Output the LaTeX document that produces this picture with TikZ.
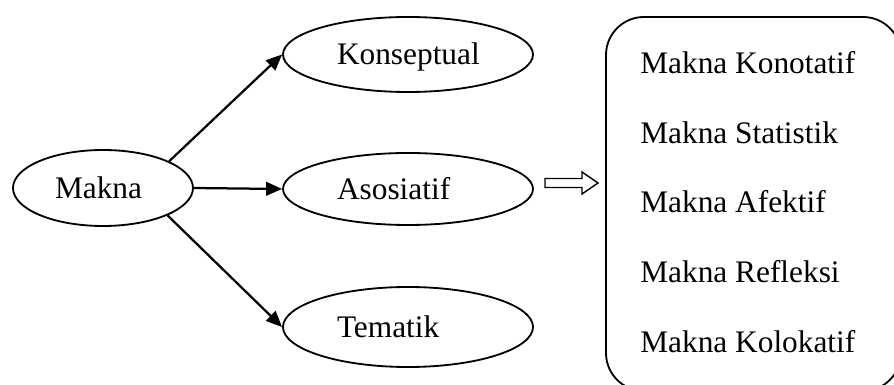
\documentclass[tikz,border=0pt]{standalone}
\usepackage{fontspec}
\setmainfont{Liberation Serif}
\usetikzlibrary{positioning,arrows.meta,shapes.geometric}

\begin{document}
\begin{tikzpicture}[font=\fontsize{22.3}{26}\selectfont,
  oval/.style={draw, ellipse, line width=1.3pt, inner sep=0pt, minimum width=6.25cm, minimum height=1.8cm,
    text width=3.55cm, align=left, text height=14.7pt, text depth=0pt},
  link/.style={-{Triangle[length=4mm, width=3.4mm]}, line width=1.6pt},
  panel/.style={draw, rounded corners=0.95cm, line width=1.3pt, minimum width=7.375cm, minimum height=9.35cm},
  item/.style={anchor=west, inner sep=0pt}]
\useasboundingbox (0,0) rectangle (22.35,-9.625);
\clip (0,0) rectangle (22.35,-9.625);
% root
\node[oval, minimum width=4.5cm, minimum height=1.9cm, text width=2.4cm] (M) at (2.575,-4.7) {Makna};
% three kinds of meaning
\node[oval, minimum height=1.875cm] (K) at (10.2,-1.3625) {Konseptual};
\node[oval] (A) at (10.2,-4.725) {Asosiatif};
\node[oval, minimum height=2cm] (T) at (10.2,-8.175) {Tematik};
\draw[link] (M.22) -- (K.west);
\draw[link] (M.east) -- (A.west);
\draw[link] (M.-23) -- (T.west);
% associative meanings
\node[panel] (P) at (18.8375,-5.1) {};
\foreach \t/\y in {Konotatif/-1.575, Statistik/-3.325, Afektif/-5.05, Refleksi/-6.8, Kolokatif/-8.55}
  \node[item] (i\t) at (16.0,\y) {Makna \t};
% hollow arrow
\coordinate (h) at (13.625,-4.575);
\draw[line width=1pt] (h) ++(0,0.1125) -- ++(0.925,0) -- ++(0,0.1625) -- ++(0.4,-0.275)
  -- ++(-0.4,-0.275) -- ++(0,0.1625) -- ++(-0.925,0) -- cycle;
\end{tikzpicture}
\end{document}
